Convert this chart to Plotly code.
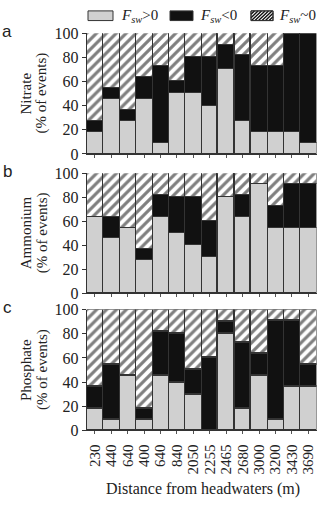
import plotly.graph_objects as go
from plotly.subplots import make_subplots

distances = ["230", "440", "640", "400", "640", "840", "2050", "2255",
             "2465", "2680", "3000", "3200", "3430", "3690"]

nitrate_pos = [18.2, 45.5, 27.3, 45.5, 9.1, 50, 50, 40, 70, 27.3, 18.2, 18.2, 18.2, 9.1]
nitrate_neg = [9.1, 9.0, 9.1, 18.1, 63.6, 10, 30, 40, 20, 54.5, 54.5, 54.5, 81.8, 90.9]
nitrate_zero = [72.7, 45.5, 63.6, 36.4, 27.3, 40, 20, 20, 10, 18.2, 27.3, 27.3, 0, 0]

ammonium_pos = [63.6, 45.5, 54.5, 27.3, 63.6, 50, 40, 30, 80, 63.6, 90.9, 54.5, 54.5, 54.5]
ammonium_neg = [0, 18.1, 0, 9.1, 18.2, 30, 40, 30, 0, 18.2, 0, 18.2, 36.4, 36.4]
ammonium_zero = [36.4, 36.4, 45.5, 63.6, 18.2, 20, 20, 40, 20, 18.2, 9.1, 27.3, 9.1, 9.1]

phosphate_pos = [18.2, 9.1, 45.5, 9.1, 45.5, 40, 30, 0, 80, 18.2, 45.5, 9.1, 36.4, 36.4]
phosphate_neg = [18.2, 45.4, 0, 9.1, 36.3, 40, 20, 60, 10, 54.5, 18.1, 81.8, 54.5, 18.1]
phosphate_zero = [63.6, 45.5, 54.5, 81.8, 18.2, 20, 50, 40, 10, 27.3, 36.4, 9.1, 9.1, 45.5]

panel_letters = ["a", "b", "c"]
panel_names = ["Nitrate", "Ammonium", "Phosphate"]
panel_units = "(% of events)"
y_ticks = [0, 20, 40, 60, 80, 100]

legend_names = ["<i>F</i><sub><i>sw</i></sub>&gt;0",
                "<i>F</i><sub><i>sw</i></sub>&lt;0",
                "<i>F</i><sub><i>sw</i></sub>~0"]
x_title = "Distance from headwaters (m)"

panels_data = [
    (nitrate_pos, nitrate_neg, nitrate_zero),
    (ammonium_pos, ammonium_neg, ammonium_zero),
    (phosphate_pos, phosphate_neg, phosphate_zero),
]

SERIF = "Liberation Serif"
GRAY = "#d0d0d0"
BLACK = "#111111"
EDGE = "#333333"
TXT = "#222222"

W, H = 323, 510
xpos = list(range(len(distances)))


def px(x):
    return x / W


def py(y):
    return (H - y) / H


fig = make_subplots(rows=3, cols=1, shared_xaxes=True)

hatch = dict(shape="/", size=7, solidity=0.45, fgcolor="#000000", bgcolor="white",
             fillmode="overlay")

for i, (pos, neg, zero) in enumerate(panels_data):
    row = i + 1
    fig.add_trace(go.Bar(x=xpos, y=pos, name=legend_names[0], showlegend=False,
                         marker=dict(color=GRAY, line=dict(color=EDGE, width=1.2))),
                  row=row, col=1)
    fig.add_trace(go.Bar(x=xpos, y=neg, name=legend_names[1], showlegend=False,
                         marker=dict(color=BLACK, line=dict(color=EDGE, width=1.2))),
                  row=row, col=1)
    fig.add_trace(go.Bar(x=xpos, y=zero, name=legend_names[2], showlegend=False,
                         marker=dict(color="white", line=dict(color=EDGE, width=1.2),
                                     pattern=hatch)),
                  row=row, col=1)

# domains in pixels (top, bottom)
doms = [(26, 151), (171, 295), (312, 437)]
x0, x1 = 86.7, 316.5

for i, (top, bot) in enumerate(doms):
    sfx = "" if i == 0 else str(i + 1)
    fig.layout["yaxis" + sfx].update(
        domain=[py(bot), py(top)],
        range=[0, 100], tickvals=y_ticks,
        ticks="outside", ticklen=4, tickcolor="#333", tickwidth=1,
        showline=True, linecolor="#333", linewidth=1, showgrid=False,
        zeroline=False, tickfont=dict(family=SERIF, size=16, color=TXT),
    )
    fig.layout["xaxis" + sfx].update(
        domain=[px(x0), px(x1)], range=[-0.5, len(distances) - 0.5],
        tickvals=xpos, ticktext=distances, showticklabels=(i == 2),
        ticks="outside", ticklen=3, tickcolor="#555", tickwidth=1,
        showline=True, linecolor="#333", linewidth=1, showgrid=False,
        zeroline=False, tickangle=-90, ticklabelstandoff=4,
        tickfont=dict(family=SERIF, size=15, color=TXT),
    )
    mid = (top + bot) / 2
    fig.add_annotation(text=panel_letters[i], xref="paper", yref="paper",
                       x=px(7), y=py(top - 2), xanchor="center", yanchor="middle",
                       showarrow=False,
                       font=dict(family="Liberation Sans", size=17, color=TXT))
    fig.add_annotation(text=panel_names[i], xref="paper", yref="paper",
                       x=px(26), y=py(mid), xanchor="center", yanchor="middle",
                       textangle=-90, showarrow=False,
                       font=dict(family=SERIF, size=15, color=TXT))
    fig.add_annotation(text=panel_units, xref="paper", yref="paper",
                       x=px(42), y=py(mid), xanchor="center", yanchor="middle",
                       textangle=-90, showarrow=False,
                       font=dict(family=SERIF, size=15, color=TXT))

fig.add_annotation(text=x_title, xref="paper", yref="paper",
                   x=px(203), y=py(486), xanchor="center", yanchor="top",
                   showarrow=False, font=dict(family=SERIF, size=16, color=TXT))

# manual legend
box_top, box_bot = 3, 13
legend_boxes = [(88, 113), (170, 193), (251, 273)]
legend_text_x = [119, 198, 277]
fills = [GRAY, BLACK, "white"]
for k, (bx0, bx1) in enumerate(legend_boxes):
    fig.add_shape(type="rect", xref="paper", yref="paper",
                  x0=px(bx0), x1=px(bx1), y0=py(box_bot), y1=py(box_top),
                  fillcolor=fills[k], line=dict(color=EDGE, width=1))
    fig.add_annotation(text=legend_names[k], xref="paper", yref="paper",
                       x=px(legend_text_x[k]), y=py(8.5), xanchor="left",
                       yanchor="middle", showarrow=False,
                       font=dict(family=SERIF, size=15, color=TXT))

# hatch lines in the third legend box
hx0, hx1 = legend_boxes[2]
hh = box_bot - box_top
segs = []
s = hx0 - hh
while s < hx1:
    ax, ay = s, box_bot
    bx, by = s + hh, box_top
    if ax < hx0:
        ay = box_bot - (hx0 - ax)
        ax = hx0
    if bx > hx1:
        by = box_top + (bx - hx1)
        bx = hx1
    if bx > ax:
        segs.append(f"M{px(ax)},{py(ay)} L{px(bx)},{py(by)}")
    s += 3.5
fig.add_shape(type="path", xref="paper", yref="paper", path=" ".join(segs),
              line=dict(color=BLACK, width=1.4))
fig.add_shape(type="rect", xref="paper", yref="paper",
              x0=px(hx0), x1=px(hx1), y0=py(box_bot), y1=py(box_top),
              fillcolor="rgba(0,0,0,0)", line=dict(color=EDGE, width=1))

fig.update_layout(
    width=W, height=H, margin=dict(l=0, r=0, t=0, b=0),
    paper_bgcolor="white", plot_bgcolor="white",
    barmode="stack", bargap=0, showlegend=False,
)

fig.write_html("out.html")
